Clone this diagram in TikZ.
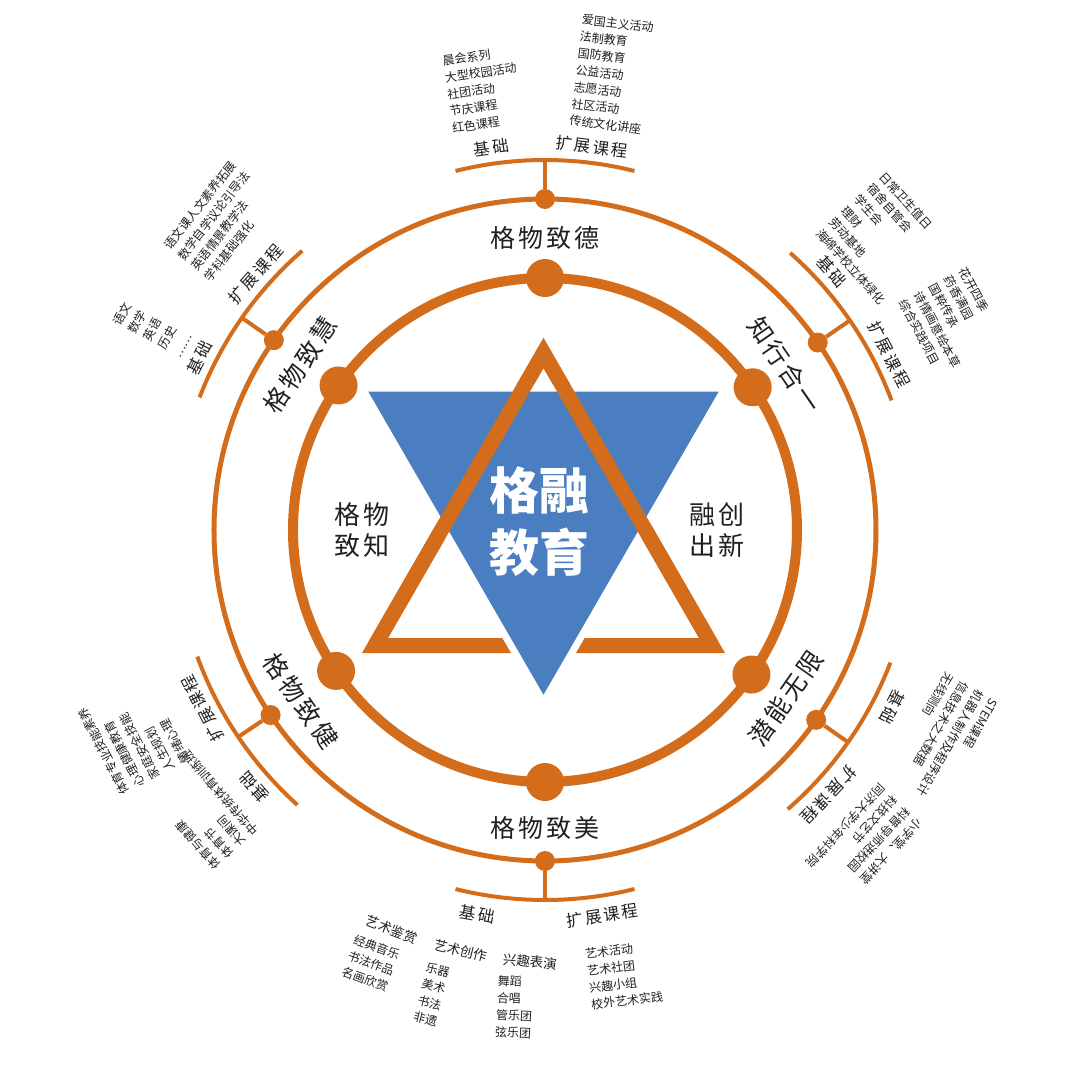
\documentclass[tikz,border=0pt]{standalone}
\usepackage{fontspec}
\setmainfont{Noto Sans CJK SC}
\newfontfamily\wide[LetterSpace=12]{Noto Sans CJK SC}
\definecolor{gor}{HTML}{D36C1B}
\definecolor{gbl}{HTML}{4A7EC1}
\definecolor{gtx}{HTML}{231F20}
\tikzset{
  mainlbl/.style={font=\wide\fontsize{25}{28}\selectfont, text=gtx, inner sep=0},
  sublbl/.style={font=\wide\fontsize{16.5}{19}\selectfont, text=gtx, inner sep=0},
  grplbl/.style={font=\fontsize{13.5}{16}\selectfont, text=gtx, inner sep=0},
  items/.style={font=\fontsize{12}{17}\selectfont, text=gtx, align=left, inner sep=0},
  bigdot/.style={circle, fill=gor, minimum size=38, inner sep=0},
  smalldot/.style={circle, fill=gor, minimum size=20, inner sep=0},
}
\begin{document}
\begin{tikzpicture}[x=1pt,y=1pt]
\useasboundingbox (-545,-550) rectangle (535,530);
% rings
\draw[gor, line width=10] (0,0) circle[radius=252];
\draw[gor, line width=5] (0,0) circle[radius=331];
% star
\draw[gor, line width=15, line join=miter] (-170,-115.5) -- (-1.5,177) -- (167,-115.5) -- cycle;
\fill[gbl, draw=white, line width=7] (-183,142) -- (180,142) -- (-1.5,-172) -- cycle;
\draw[gor, line width=15, line join=miter] (-170,-115.5) -- (-1.5,177) -- (167,-115.5);
\node[font=\bfseries\fontsize{50}{62}\selectfont, text=white, align=center] (core) at (-5,8) {格融\\教育};
\node[font=\wide\fontsize{26}{31}\selectfont, text=gtx, align=center] (zhi) at (-183,0) {格物\\致知};
\node[font=\wide\fontsize{26}{31}\selectfont, text=gtx, align=center] (xin) at (172,0) {融创\\出新};
% branches
\foreach \a/\n in {90/de, 34.5/zx, -35/qn, -90/mei, -146/jian, 145/hui} {
  \node[bigdot] (b\n) at (\a:252) {};
  \node[smalldot] (s\n) at (\a:331) {};
  \coordinate (k\n) at (\a:370);
  \draw[gor, line width=4] (s\n) -- (k\n);
  \draw[gor, line width=4] (\a+14:370) arc[start angle=\a+14, end angle=\a-14, radius=370];
}
% 格物致德
\node[mainlbl] (tde) at (90:292) {格物致德};
\node[sublbl, rotate=8] (jde) at (98:386) {基础};
\node[sublbl, rotate=-7] (xde) at (83:386) {扩展课程};
\node[items, rotate=8, anchor=south] (jdel) at (98:405) {晨会系列\\大型校园活动\\社团活动\\节庆课程\\红色课程};
\node[items, rotate=-7, anchor=south] (xdel) at (81.5:404) {爱国主义活动\\法制教育\\国防教育\\公益活动\\志愿活动\\社区活动\\传统文化讲座};
% 知行合一
\node[mainlbl, rotate=-55.5] (tzx) at (34.5:291) {知行合一};
\node[sublbl, rotate=-48] (jzx) at (42:386) {基础};
\node[sublbl, rotate=-63] (xzx) at (27:386) {扩展课程};
\node[items, rotate=-48, anchor=south] (jzxl) at (40.7:398) {日常卫生值日\\宿舍自管会\\学生会\\理财\\劳动基地\\海绵学校立体绿化};
\node[items, rotate=-62, anchor=south] (xzxl) at (27:418) {花开四季\\药香满园\\国粹传承\\诗情画意绘本草\\综合实践项目};
% 潜能无限
\node[mainlbl, rotate=55] (tqn) at (-35:294) {潜能无限};
\node[sublbl, rotate=-117] (jqn) at (-27:390) {基础};
\node[sublbl, rotate=-133] (xqn) at (-43:388) {扩展课程};
\node[items, rotate=-120, anchor=south] (jqnl) at (-27.5:418) {STEM课程\\机器人制作及程序设计\\信息技术之大数据\\无线测向};
\node[items, rotate=-133, anchor=south] (xqnl) at (-44.5:416) {小学堂、大讲堂\\科普导师进校园\\科技文艺节\\同济大学少年科学院};
% 格物致美
\node[mainlbl] (tmei) at (-90:298) {格物致美};
\node[sublbl, rotate=-10] (jmei) at (-100:390) {基础};
\node[sublbl, rotate=8.5] (xmei) at (-81.5:390) {扩展课程};
\node[grplbl, rotate=-21] (gjs) at (-111:428) {艺术鉴赏};
\node[items, rotate=-20, anchor=north] (gjsl) at (-112:444) {经典音乐\\书法作品\\名画欣赏};
\node[grplbl, rotate=-14] (gcz) at (-101.3:429) {艺术创作};
\node[items, rotate=-14, anchor=north] (gczl) at (-103.7:447) {乐器\\美术\\书法\\非遗};
\node[grplbl, rotate=-5] (gby) at (-92:432) {兴趣表演};
\node[items, rotate=-3, anchor=north] (gbyl) at (-93.7:447) {舞蹈\\合唱\\管乐团\\弦乐团};
\node[items, rotate=7, anchor=north] (xmeil) at (-79.7:421) {艺术活动\\艺术社团\\兴趣小组\\校外艺术实践};
% 格物致健
\node[mainlbl, rotate=-55] (tjian) at (-145:298) {格物致健};
\node[sublbl, rotate=131.5] (jjian) at (-138.5:388) {基础};
\node[sublbl, rotate=117.5] (xjian) at (-152.5:386) {扩展课程};
\node[items, rotate=117.5, anchor=south] (xjianl) at (-153.5:420) {体育专业技能素养\\心理健康教育\\家庭安全技能\\人生规划\\情绪心理};
\node[items, rotate=131.5, anchor=south] (jjianl) at (-141:412) {体育与健康\\体育节\\大课间\\中华传统体育训练班};
% 格物致慧
\node[mainlbl, rotate=56] (thui) at (146:295) {格物致慧};
\node[sublbl, rotate=63.5] (jhui) at (153.5:386) {基础};
\node[sublbl, rotate=48.5] (xhui) at (138.5:386) {扩展课程};
\node[items, rotate=62, anchor=south] (jhuil) at (153:402) {语文\\数学\\英语\\历史\\……};
\node[items, rotate=52, anchor=south] (xhuil) at (136:417) {语文课人文素养拓展\\数学自学议论引导法\\英语情景教学法\\学科基础强化};
\end{tikzpicture}
\end{document}
